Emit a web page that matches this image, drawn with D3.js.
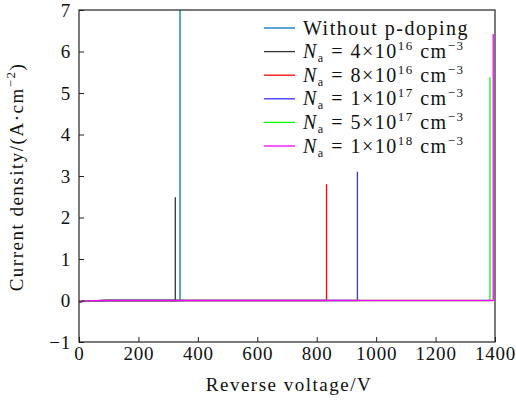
<!DOCTYPE html>
<html>
<head>
<meta charset="utf-8">
<script src="https://cdn.jsdelivr.net/npm/d3@7"></script>
<style>
  body { margin: 0; background: #fff; }
  text { font-family: "Liberation Serif", "Times New Roman", serif; fill: #111; letter-spacing: 1.5px; }
</style>
</head>
<body>
<div id="chart"></div>
<script>
'use strict';

// series names (legend) and line colours
const seriesNames = ["Without p-doping", "4", "8", "1", "5", "1"];
const seriesExp = [null, "16", "16", "17", "17", "18"];
const seriesColors = ["#0072BD", "#333333", "#FF0000", "#3333FF", "#00FF00", "#FF00FF"];

// breakdown voltage (V) and peak current density (A/cm^2)
const breakdownV = [340, 324, 833, 937, 1383, 1394];
const peakJ = [8.0, 2.49, 2.8, 3.1, 5.38, 6.42];
// leakage current near zero before breakdown
const leakV = [0, 20, 100];
const leakJ = [-0.04, -0.01, 0];

const xTicks = [0, 200, 400, 600, 800, 1000, 1200, 1400];
const yTicks = [-1, 0, 1, 2, 3, 4, 5, 6, 7];

var W = 516, H = 401;
var margin = {top: 10, right: 21, bottom: 59, left: 79};
var width = W - margin.left - margin.right,
    height = H - margin.top - margin.bottom;

var svg = d3.select("#chart").append("svg")
  .attr("width", W)
  .attr("height", H);

var g = svg.append("g")
  .attr("transform", "translate(" + margin.left + "," + margin.top + ")");

var x = d3.scaleLinear().domain([0, 1400]).range([0, width]);
var y = d3.scaleLinear().domain([-1, 7]).range([height, 0]);

g.append("clipPath").attr("id", "clip")
  .append("rect").attr("width", width).attr("height", height);

// build each curve from the leakage points then the vertical breakdown
var curves = breakdownV.map(function(vb, i) {
  var pts = leakV.map(function(v, k) { return [v, leakJ[k]]; });
  pts.push([vb, 0]);
  pts.push([vb, peakJ[i]]);
  return pts;
});

var line = d3.line()
  .x(function(d) { return x(d[0]); })
  .y(function(d) { return y(d[1]); });

g.append("g").attr("clip-path", "url(#clip)")
  .selectAll("path.curve")
  .data(curves)
  .enter().append("path")
  .attr("class", "curve")
  .attr("d", line)
  .attr("fill", "none")
  .attr("stroke", function(d, i) { return seriesColors[i]; })
  .attr("stroke-width", 1.3);

// axes (ticks inside)
var xAxis = g.append("g")
  .attr("transform", "translate(0," + height + ")")
  .call(d3.axisBottom(x).tickValues(xTicks).tickSize(-5).tickPadding(4).tickFormat(d3.format("d")));
var yAxis = g.append("g")
  .call(d3.axisLeft(y).tickValues(yTicks).tickSize(-5).tickPadding(8)
    .tickFormat(function(d) { return d < 0 ? "\u2212" + Math.abs(d) : d; }));

[xAxis, yAxis].forEach(function(a) {
  a.select(".domain").remove();
  a.selectAll("line").attr("stroke", "#222");
  a.selectAll("text").style("font-size", "19px").attr("fill", "#111")
    .style("font-family", "'Liberation Serif', serif").style("letter-spacing", "0.8px");
});
xAxis.selectAll("text").attr("dy", "0.74em");
yAxis.selectAll("text").attr("dy", "0.33em");

// box
g.append("rect")
  .attr("width", width).attr("height", height)
  .attr("fill", "none").attr("stroke", "#222").attr("stroke-width", 1.2);

// axis titles
svg.append("text")
  .attr("x", 289).attr("y", 391)
  .attr("text-anchor", "middle")
  .style("font-size", "19px")
  .text("Reverse voltage/V");

var yl = svg.append("text")
  .attr("transform", "translate(23,177) rotate(-90)")
  .attr("text-anchor", "middle")
  .style("font-size", "19px");
yl.append("tspan").text("Current density/(A\u00B7cm");
yl.append("tspan").attr("dy", -8).style("font-size", "13px").text("\u22122");
yl.append("tspan").attr("dy", 8).text(")");

// legend
var leg = svg.append("g").attr("transform", "translate(264,28)");
seriesNames.forEach(function(name, i) {
  var row = leg.append("g").attr("transform", "translate(0," + (i * 23.6) + ")");
  row.append("line")
    .attr("x1", 0).attr("x2", 31).attr("y1", 0).attr("y2", 0)
    .attr("stroke", seriesColors[i]).attr("stroke-width", 1.3);
  var t = row.append("text").attr("x", 39).attr("y", 6.5).style("font-size", "20px");
  if (seriesExp[i] === null) {
    t.text(name);
  } else {
    t.append("tspan").style("font-style", "italic").text("N");
    t.append("tspan").attr("dy", 4).style("font-size", "12px").text("a");
    t.append("tspan").attr("dy", -4).text(" = " + name + "\u00D710");
    t.append("tspan").attr("dy", -8).style("font-size", "13px").text(seriesExp[i]);
    t.append("tspan").attr("dy", 8).text(" cm");
    t.append("tspan").attr("dy", -8).style("font-size", "13px").text("\u22123");
  }
});
</script>
</body>
</html>
